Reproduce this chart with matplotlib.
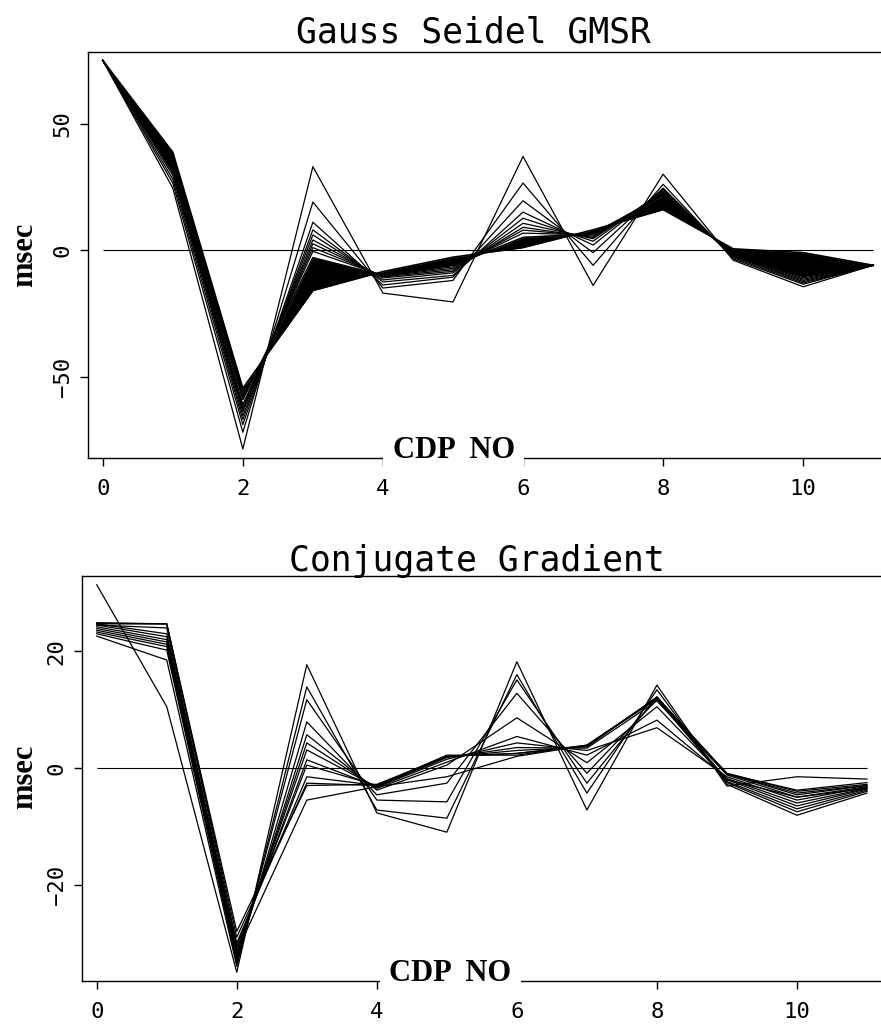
import matplotlib
matplotlib.use('Agg')
import matplotlib.pyplot as plt

# CDP numbers along the line
cdp = [0, 1, 2, 3, 4, 5, 6, 7, 8, 9, 10, 11]

# Gauss Seidel GMSR: early iterations (thin, spread out), in msec
gs_early = [
    [75, 24.5, -78.6, 33.0, -17.0, -20.5, 37.0, -14.0, 30.0, -4.0, -14.5, -6],
    [75, 26.5, -72.0, 19.0, -15.0, -12.0, 26.5, -6.0, 26.0, -3.5, -13.5, -6],
    [75, 28.0, -69.0, 11.0, -13.8, -10.7, 19.5, -1.0, 24.5, -3.0, -13.0, -6],
    [75, 29.5, -67.0, 8.0, -12.6, -10.0, 15.0, 2.0, 24.0, -2.5, -12.5, -6],
    [75, 30.5, -65.5, 6.0, -11.8, -9.0, 12.6, 3.5, 23.5, -2.5, -12.0, -6],
    [75, 31.0, -64.0, 4.0, -11.0, -8.4, 10.6, 4.5, 23.0, -2.2, -11.5, -6],
    [75, 31.5, -63.0, 2.5, -10.6, -7.8, 9.0, 5.0, 22.5, -2.0, -11.0, -6],
    [75, 32.0, -62.0, 1.0, -10.3, -7.2, 7.9, 5.5, 22.2, -2.0, -10.5, -6],
    [75, 32.5, -61.0, -0.5, -10.1, -6.6, 6.7, 6.0, 22.0, -2.0, -10.3, -6],
]
# dense band of later iterations: first band member and converged result
gs_band_start = [75, 33.0, -59.0, -3.0, -10.0, -6.0, 5.0, 6.5, 21.5, -2.0, -10.0, -6]
gs_final = [75, 38.7, -54.6, -16.0, -8.5, -2.8, 1.0, 8.0, 16.0, 0.5, -1.0, -6]

# Conjugate Gradient iterations, in msec
cg_iters = [
    [31.4, 10.5, -35.0, 17.7, -7.7, -11.0, 18.2, -7.2, 14.2, -3.1, -1.5, -1.9],
    [22.6, 18.5, -34.0, 13.9, -7.2, -8.6, 16.0, -4.3, 13.4, -2.8, -8.1, -4.3],
    [23.0, 20.2, -33.5, 11.7, -5.5, -5.8, 15.1, -2.6, 12.2, -2.5, -7.5, -4.0],
    [23.3, 20.8, -33.0, 7.9, -4.6, -2.6, 12.8, -0.9, 11.7, -2.3, -7.0, -3.8],
    [23.6, 21.2, -32.5, 5.7, -3.8, 0.5, 8.6, 0.9, 10.5, -2.0, -6.5, -3.6],
    [23.9, 21.6, -32.0, 4.3, -3.5, 1.0, 5.4, 2.2, 8.2, -1.8, -6.0, -3.5],
    [24.2, 22.0, -31.5, 3.1, -3.3, 1.5, 4.3, 3.0, 6.9, -1.5, -5.5, -3.3],
    [24.5, 22.5, -31.0, 1.4, -3.2, 1.8, 3.5, 3.4, 11.5, -1.2, -5.0, -3.2],
    [24.7, 23.0, -30.5, 0.5, -3.0, 1.9, 3.0, 3.6, 12.2, -1.0, -4.6, -3.0],
    [24.7, 24.7, -30.0, -1.5, -3.0, 2.0, 2.5, 3.8, 12.0, -1.0, -4.3, -3.0],
    [24.8, 24.7, -29.0, -2.6, -3.0, 2.2, 2.2, 3.9, 11.8, -0.9, -4.0, -2.8],
    [24.9, 24.7, -28.0, -3.0, -2.8, 2.0, 2.5, 3.9, 12.0, -1.0, -3.8, -2.5],
    [24.5, 24.0, -31.5, -5.5, -3.2, -1.5, 2.0, 3.9, 12.0, -2.0, -5.0, -3.5],
]

xticks = [0, 2, 4, 6, 8, 10]
gs_yticks = [-50, 0, 50]
cg_yticks = [-20, 0, 20]

mono = 'DejaVu Sans Mono'
serif = 'Liberation Serif'

fig = plt.figure(figsize=(8.81, 10.24), dpi=100)
ax_gs = fig.add_axes([0.0999, 0.5527, 0.9001, 0.3965])
ax_cg = fig.add_axes([0.0931, 0.0420, 0.9069, 0.3955])


def style_axes(ax, yticks, ylim, xlim):
    ax.set_xlim(*xlim)
    ax.set_ylim(*ylim)
    ax.set_xticks(xticks)
    ax.set_yticks(yticks)
    ax.spines['right'].set_visible(False)
    for s in ['left', 'top', 'bottom']:
        ax.spines[s].set_linewidth(1.0)
    ax.tick_params(direction='out', length=6, width=1.0, labelsize=16)
    ax.tick_params(axis='x', pad=9)
    ax.tick_params(axis='y', pad=5, labelrotation=90)
    for lab in ax.get_xticklabels() + ax.get_yticklabels():
        lab.set_family(mono)
    for lab in ax.get_yticklabels():
        lab.set_verticalalignment('center')
    # axis name sits on the bottom spine and breaks it
    ax.text(0.461, 0.0, 'CDP  NO', transform=ax.transAxes, ha='center', va='baseline',
            family=serif, fontweight='bold', fontsize=22, zorder=6,
            bbox=dict(boxstyle='square,pad=0.3', facecolor='white', edgecolor='none'))
    # zero reference line
    ax.hlines(0, cdp[0], cdp[-1], color='k', lw=0.8, zorder=1)


# top: Gauss Seidel
for it in gs_early:
    ax_gs.plot(cdp, it, color='k', lw=0.9)
ax_gs.fill_between(cdp, gs_band_start, gs_final, interpolate=True, color='k', lw=0)
ax_gs.plot(cdp, gs_band_start, color='k', lw=1.2)
ax_gs.plot(cdp, gs_final, color='k', lw=1.2)
style_axes(ax_gs, gs_yticks, (-82.2, 78.3), (-0.21, 11.11))

# bottom: Conjugate Gradient
for it in cg_iters:
    ax_cg.plot(cdp, it, color='k', lw=0.9)
style_axes(ax_cg, cg_yticks, (-36.5, 32.9), (-0.21, 11.2))

fig.text(0.537, 0.968, 'Gauss Seidel GMSR', family=mono, fontsize=25, ha='center', va='center')
fig.text(0.541, 0.452, 'Conjugate Gradient', family=mono, fontsize=25, ha='center', va='center')
fig.text(0.0284, 0.751, 'msec', family=serif, fontweight='bold', fontsize=22,
         rotation=90, ha='center', va='center')
fig.text(0.0284, 0.241, 'msec', family=serif, fontweight='bold', fontsize=22,
         rotation=90, ha='center', va='center')

fig.savefig('out.png', dpi=100)
